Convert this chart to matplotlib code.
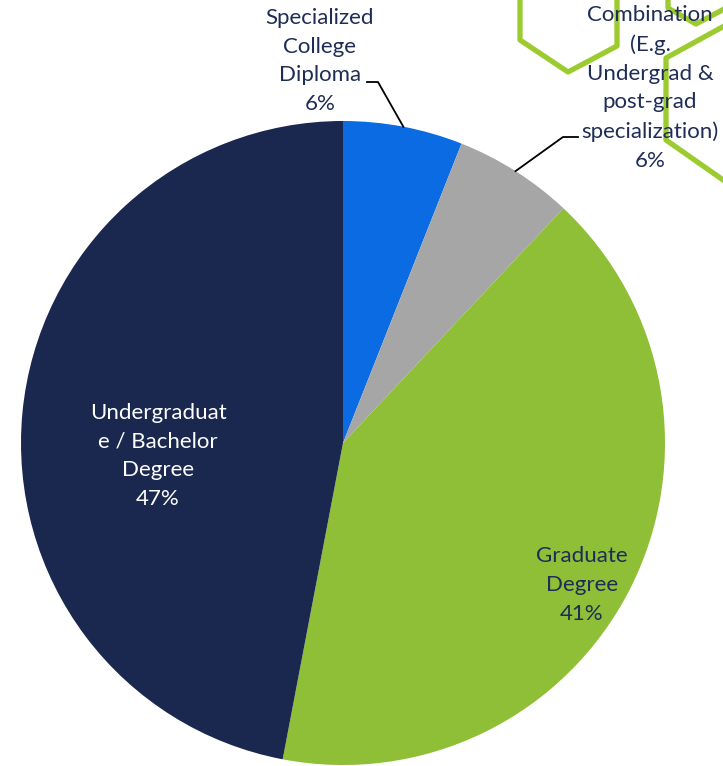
import numpy as np
import matplotlib
matplotlib.use("Agg")
import matplotlib.pyplot as plt

categories = ["Specialized\nCollege\nDiploma",
              "Combination\n(E.g.\nUndergrad &\npost-grad\nspecialization)",
              "Graduate\nDegree",
              "Undergraduat\ne / Bachelor\nDegree"]
values = [6, 6, 41, 47]
colors = ["#0A6BE2", "#A6A6A6", "#8FBE37", "#1A2850"]

W, H = 723, 766
fig = plt.figure(figsize=(W / 100, H / 100), dpi=100)
ax = fig.add_axes([0, 0, 1, 1])

def P(x, y):
    return x, H - y

FONT = ["Lato", "DejaVu Sans"]
TXT = "#1F2D56"
HEX = "#9BCB2E"
FS = 16
LS = 1.55

# decorative hexagon outlines (slide background)
hexes = [
    [(520, -5), (520, 40), (568, 72), (617, 46), (617, -5)],
    [(668, -5), (668, 8), (696, 24), (726, 8)],
    [(726, 25), (666, 58), (666, 140), (726, 182)],
]
for hx in hexes:
    xs, ys = zip(*[P(x, y) for x, y in hx])
    ax.plot(xs, ys, color=HEX, lw=3.8, solid_joinstyle="round",
            solid_capstyle="round", zorder=1)

cx, cy = P(343, 443)
R = 322
wedges, _ = ax.pie(values, colors=colors, startangle=90, counterclock=False,
                   center=(cx, cy), radius=R, frame=True,
                   wedgeprops=dict(linewidth=0, zorder=2))
ax.set_xlim(0, W)
ax.set_ylim(0, H)
ax.set_aspect("equal")
ax.axis("off")

pct = [f"{v}%" for v in values]

# outside labels with leader lines
lab_pos = [(320, 61), (650, 88)]
elbows = [((367, 82), (378, 82)), ((578, 137), (563, 137))]
for i in range(2):
    text = categories[i] + "\n" + pct[i]
    x, y = P(*lab_pos[i])
    ax.text(x, y, text, ha="center", va="center", fontsize=FS, color=TXT,
            family=FONT, linespacing=LS, zorder=5)
    w = wedges[i]
    mid = np.deg2rad((w.theta1 + w.theta2) / 2)
    ex, ey = cx + R * np.cos(mid), cy + R * np.sin(mid)
    (ax0, ay0), (ax1, ay1) = elbows[i]
    xs = [P(ax0, ay0)[0], P(ax1, ay1)[0], ex]
    ys = [P(ax0, ay0)[1], P(ax1, ay1)[1], ey]
    ax.plot(xs, ys, color="black", lw=1.3, zorder=4)

# inside labels
x, y = P(582, 585)
ax.text(x, y, categories[2] + "\n" + pct[2], ha="center", va="center",
        fontsize=FS, color=TXT, family=FONT, linespacing=LS, zorder=5)
x, y = P(158, 456)
ax.text(x, y, categories[3] + "\n" + pct[3], ha="center", va="center",
        fontsize=FS, color="white", family=FONT, linespacing=LS, zorder=5)

fig.savefig("out.png", dpi=100)
